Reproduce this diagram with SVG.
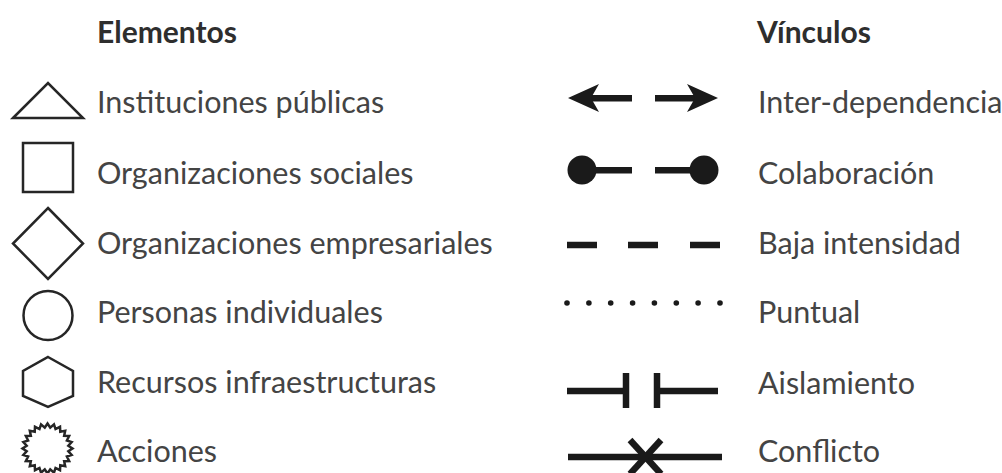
<svg xmlns="http://www.w3.org/2000/svg" width="1002" height="473" viewBox="0 0 1002 473">
<style>
.h{font-family:Lato,"Open Sans",sans-serif;font-weight:bold;font-size:30px;fill:#2e2e2e}
.t{font-family:Lato,"Open Sans",sans-serif;font-size:30.5px;fill:#444444}
.s{fill:none;stroke:#262626;stroke-width:2.5;stroke-linejoin:miter}
.l{stroke:#1a1a1a;stroke-width:6.5;fill:none}
.f{fill:#1a1a1a}
</style>
<rect width="1002" height="473" fill="#ffffff"/>
<g id="heading-elementos"><text class="h" x="97" y="43">Elementos</text></g>
<g id="heading-vinculos"><text class="h" x="757" y="43">Vínculos</text></g>

<g id="instituciones"><polygon class="s" points="13,118 48,83 83,118"/><text class="t" x="97" y="113">Instituciones públicas</text></g>
<g id="org-sociales"><rect class="s" x="23" y="143" width="50" height="49"/><text class="t" x="97" y="184">Organizaciones sociales</text></g>
<g id="org-empresariales"><polygon class="s" points="48,208 83,243.5 48,279 13,243.5"/><text class="t" x="97" y="254">Organizaciones empresariales</text></g>
<g id="personas"><circle class="s" cx="48" cy="315.5" r="24.5"/><text class="t" x="97" y="323">Personas individuales</text></g>
<g id="recursos"><polygon class="s" points="48,357 73,371 73,396 48,407 23,396 23,371"/><text class="t" x="97" y="393">Recursos infraestructuras</text></g>
<g id="acciones"><polygon class="s" stroke-width="2" points="47.5,423.5 50.24,427.68 53.97,424.35 55.54,429.1 60,426.85 60.28,431.84 65.18,430.82 64.16,435.72 69.15,436 66.9,440.46 71.65,442.03 68.32,445.76 72.5,448.5 68.32,451.24 71.65,454.97 66.9,456.54 69.15,461 64.16,461.28 65.18,466.18 60.28,465.16 60,470.15 55.54,467.9 53.97,472.65 50.24,469.32 47.5,473.5 44.76,469.32 41.03,472.65 39.46,467.9 35,470.15 34.72,465.16 29.82,466.18 30.84,461.28 25.85,461 28.1,456.54 23.35,454.97 26.68,451.24 22.5,448.5 26.68,445.76 23.35,442.03 28.1,440.46 25.85,436 30.84,435.72 29.82,430.82 34.72,431.84 35,426.85 39.46,429.1 41.03,424.35 44.76,427.68"/><text class="t" x="97" y="462">Acciones</text></g>

<g id="connectors">
<g id="interdependencia"><rect class="f" x="588" y="95" width="44" height="6.5"/><polygon class="f" points="568,98 599,84 591,98 599,112"/><rect class="f" x="655" y="95" width="45" height="6.5"/><polygon class="f" points="718,98 687,84 695,98 687,112"/></g>
<g id="colaboracion"><circle class="f" cx="582" cy="170" r="14.5"/><rect class="f" x="594" y="167" width="38" height="6.5"/><rect class="f" x="655" y="167" width="38" height="6.5"/><circle class="f" cx="704" cy="170" r="14.5"/></g>
<g id="baja"><line class="l" x1="567" y1="245" x2="597" y2="245"/><line class="l" x1="628" y1="245" x2="658" y2="245"/><line class="l" x1="690" y1="245" x2="720" y2="245"/></g>
<g id="puntual" class="f"><circle cx="567" cy="303" r="2.8"/><circle cx="588.9" cy="303" r="2.8"/><circle cx="610.7" cy="303" r="2.8"/><circle cx="632.6" cy="303" r="2.8"/><circle cx="654.4" cy="303" r="2.8"/><circle cx="676.3" cy="303" r="2.8"/><circle cx="698.1" cy="303" r="2.8"/><circle cx="720" cy="303" r="2.8"/></g>
<g id="aislamiento"><line class="l" x1="567" y1="391" x2="627" y2="391"/><line class="l" x1="626" y1="373" x2="626" y2="408"/><line class="l" x1="657" y1="373" x2="657" y2="408"/><line class="l" x1="657" y1="391" x2="718" y2="391"/></g>
<g id="conflicto"><line class="l" x1="568" y1="457" x2="722" y2="457"/><line class="l" stroke-width="7" x1="630" y1="440" x2="661" y2="474"/><line class="l" stroke-width="7" x1="630" y1="474" x2="661" y2="440"/></g>
</g>

<g id="labels-vinculos">
<text class="t" x="758" y="113">Inter-dependencia</text>
<text class="t" x="758" y="184">Colaboración</text>
<text class="t" x="758" y="254">Baja intensidad</text>
<text class="t" x="758" y="323">Puntual</text>
<text class="t" x="758" y="394">Aislamiento</text>
<text class="t" x="758" y="462">Conflicto</text>
</g>
</svg>
